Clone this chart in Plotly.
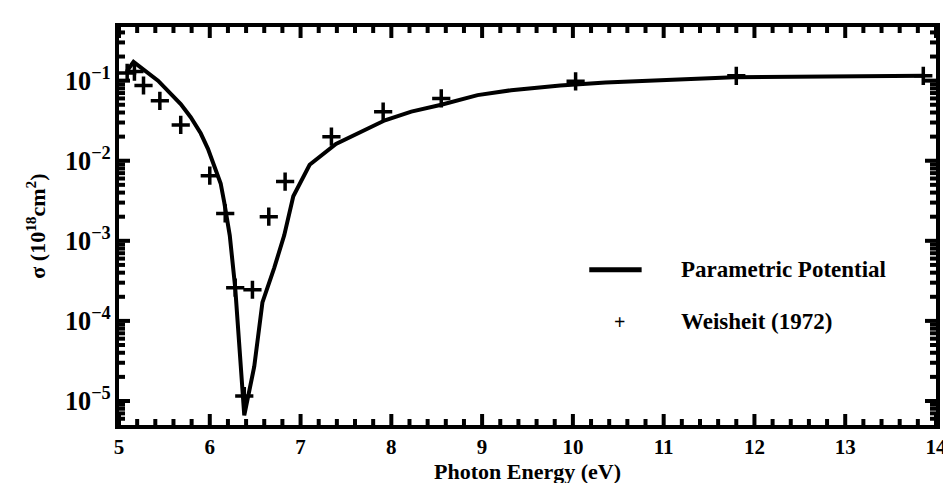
import math
import plotly.graph_objects as go

# Parametric potential curve
curve_x = [5.09, 5.16, 5.43, 5.56, 5.68, 5.79, 5.90, 5.98, 6.05, 6.12, 6.16, 6.22, 6.28,
           6.38, 6.49, 6.58, 6.71, 6.82, 6.92, 7.10, 7.39, 7.67, 7.93, 8.22, 8.55, 8.95,
           9.32, 9.86, 10.36, 11.77, 13.88]
curve_y = [0.133, 0.172, 0.100, 0.071, 0.051, 0.035, 0.022, 0.0141, 0.0085, 0.0052,
           0.0030, 0.00117, 2.6e-4, 6.6e-6, 2.7e-5, 1.7e-4, 4.6e-4, 1.17e-3, 3.6e-3,
           8.9e-3, 0.0162, 0.0229, 0.032, 0.041, 0.050, 0.066, 0.076, 0.087, 0.095,
           0.110, 0.115]

# Weisheit (1972) points
pts_x = [5.09, 5.17, 5.27, 5.45, 5.68, 6.00, 6.17, 6.28, 6.38, 6.47, 6.65, 6.83,
         7.34, 7.91, 8.55, 10.03, 11.80, 13.86]
pts_y = [0.125, 0.13, 0.087, 0.056, 0.028, 0.0065, 0.0022, 2.6e-4, 1.15e-5, 2.45e-4,
         2.0e-3, 5.5e-3, 0.020, 0.041, 0.060, 0.098, 0.115, 0.115]

legend_names = ["Parametric Potential", "Weisheit (1972)"]

# axis ticks
x_major = [5, 6, 7, 8, 9, 10, 11, 12, 13, 14]
x_minor = [round(5 + 0.2 * i, 1) for i in range(46) if i % 5 != 0]
Y_LO, Y_HI = -5.30, -0.33
y_major = [1e-5, 1e-4, 1e-3, 1e-2, 1e-1]
y_minor = [m * 10.0 ** e for e in range(-6, 0) for m in range(2, 10)
           if Y_LO < math.log10(m * 10.0 ** e) < Y_HI]

FONT = "Liberation Serif"

fig = go.Figure()
fig.add_trace(go.Scatter(x=curve_x, y=curve_y, mode="lines",
                         line=dict(color="black", width=4), showlegend=False))
fig.add_trace(go.Scatter(x=pts_x, y=pts_y, mode="markers",
                         marker=dict(symbol="cross-thin", size=13,
                                     line=dict(color="black", width=3.5)),
                         showlegend=False))

tickfont = dict(family=FONT, size=21, color="black", weight="bold")

fig.update_xaxes(range=[5, 14], tickmode="linear", tick0=5, dtick=1,
                 showline=True, linewidth=4, linecolor="black", mirror=True,
                 ticks="", showgrid=False, zeroline=False, tickfont=tickfont,
                 title=dict(text="Photon Energy (eV)", standoff=4,
                            font=dict(family=FONT, size=22, color="black", weight="bold")))
fig.update_yaxes(type="log", range=[Y_LO, Y_HI], dtick=1, exponentformat="power",
                 showline=True, linewidth=4, linecolor="black", mirror=True,
                 ticks="", showgrid=False, zeroline=False, tickfont=tickfont,
                 title=dict(text="σ (10<sup>18</sup>cm<sup>2</sup>)", standoff=14,
                            font=dict(family=FONT, size=22, color="black", weight="bold")))

# tick marks drawn as shapes (inside, on all four sides)
def xtick(v, length, width):
    for anchor, sign in ((0, 1), (1, -1)):
        fig.add_shape(type="line", xref="x", yref="paper", ysizemode="pixel",
                      yanchor=anchor, x0=v, x1=v, y0=0, y1=sign * length,
                      line=dict(color="black", width=width))

def ytick(v, length, width):
    p = (math.log10(v) - Y_LO) / (Y_HI - Y_LO)
    for anchor, sign in ((0, 1), (1, -1)):
        fig.add_shape(type="line", xref="paper", yref="paper", xsizemode="pixel",
                      xanchor=anchor, x0=0, x1=sign * length, y0=p, y1=p,
                      line=dict(color="black", width=width))

for v in x_major:
    xtick(v, 11, 4)
for v in x_minor:
    xtick(v, 6, 4)
for v in y_major:
    ytick(v, 11, 4)
for v in y_minor:
    ytick(v, 6, 4)

# manual legend
fig.add_shape(type="line", xref="paper", yref="paper", x0=0.5756, x1=0.6397,
              y0=0.39, y1=0.39, line=dict(color="black", width=5))
fig.add_annotation(xref="paper", yref="paper", x=0.6856, y=0.39, xanchor="left",
                   yanchor="middle", text=legend_names[0], showarrow=False,
                   font=dict(family=FONT, size=23, color="black", weight="bold"))
fig.add_annotation(xref="paper", yref="paper", x=0.612, y=0.26, xanchor="center",
                   yanchor="middle", text="+", showarrow=False,
                   font=dict(family=FONT, size=20, color="black", weight="bold"))
fig.add_annotation(xref="paper", yref="paper", x=0.6856, y=0.26, xanchor="left",
                   yanchor="middle", text=legend_names[1], showarrow=False,
                   font=dict(family=FONT, size=23, color="black", weight="bold"))

fig.update_layout(width=951, height=483, margin=dict(l=111, r=13, t=19, b=61),
                  paper_bgcolor="white", plot_bgcolor="white", showlegend=False)

fig.write_html("out.html")
